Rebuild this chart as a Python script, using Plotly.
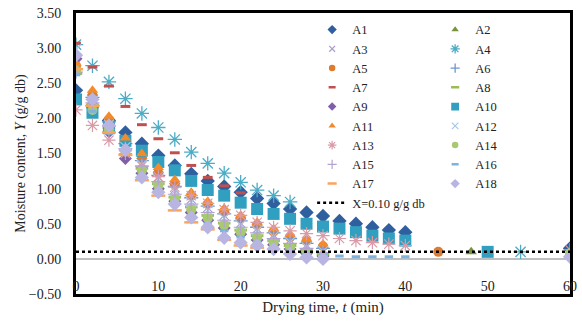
import plotly.graph_objects as go

# ---------------- data ----------------
T40 = [0, 2, 4, 6, 8, 10, 12, 14, 16, 18, 20, 22, 24, 26, 28, 30, 32, 34, 36, 38, 40]
T30 = [0, 2, 4, 6, 8, 10, 12, 14, 16, 18, 20, 22, 24, 26, 28, 30]

A1_T = T40 + [60]
A1_Y = [2.40, 2.18, 1.97, 1.80, 1.64, 1.47, 1.33, 1.21, 1.11, 1.03, 0.95, 0.86, 0.79, 0.71, 0.66, 0.61, 0.54, 0.50, 0.45, 0.41, 0.38, 0.15]
A2_T = T30 + [48]
A2_Y = [2.72, 2.36, 2.00, 1.68, 1.46, 1.26, 1.10, 0.93, 0.80, 0.69, 0.60, 0.50, 0.41, 0.33, 0.26, 0.19, 0.10]
A3_T = T30
A3_Y = [2.68, 2.27, 1.93, 1.61, 1.37, 1.16, 0.99, 0.85, 0.73, 0.62, 0.51, 0.43, 0.34, 0.27, 0.20, 0.13]
A4_T = [0, 2, 4, 6, 8, 10, 12, 14, 16, 18, 20, 22, 24, 26, 54]
A4_Y = [3.05, 2.75, 2.52, 2.28, 2.07, 1.87, 1.70, 1.52, 1.36, 1.22, 1.09, 0.98, 0.90, 0.81, 0.10]
A5_T = T30 + [44]
A5_Y = [2.75, 2.33, 1.98, 1.66, 1.43, 1.22, 1.06, 0.90, 0.78, 0.67, 0.58, 0.48, 0.39, 0.31, 0.25, 0.18, 0.10]
A6_T = T30
A6_Y = [2.70, 2.30, 1.95, 1.64, 1.40, 1.19, 1.03, 0.87, 0.75, 0.64, 0.54, 0.45, 0.37, 0.29, 0.22, 0.15]
A7_T = [0, 2, 4, 6, 8, 10, 12, 14, 16, 18, 20]
A7_Y = [3.07, 2.73, 2.46, 2.17, 1.91, 1.71, 1.51, 1.33, 1.16, 1.04, 0.94]
A8_T = T30
A8_Y = [2.64, 2.19, 1.87, 1.55, 1.29, 1.07, 0.88, 0.74, 0.62, 0.51, 0.41, 0.33, 0.26, 0.19, 0.12, 0.07]
A9_T = T30
A9_Y = [2.85, 2.15, 1.81, 1.43, 1.22, 1.00, 0.82, 0.66, 0.55, 0.44, 0.35, 0.27, 0.20, 0.14, 0.08, 0.04]
A10_T = T40 + [50]
A10_Y = [2.27, 2.08, 1.86, 1.68, 1.54, 1.38, 1.26, 1.11, 0.98, 0.90, 0.80, 0.71, 0.64, 0.57, 0.50, 0.46, 0.43, 0.38, 0.33, 0.29, 0.26, 0.10]
A11_T = T30
A11_Y = [2.78, 2.40, 2.03, 1.72, 1.50, 1.30, 1.13, 0.95, 0.82, 0.72, 0.62, 0.52, 0.43, 0.35, 0.28, 0.21]
A12_T = T30
A12_Y = [2.98, 2.25, 1.91, 1.59, 1.34, 1.13, 0.96, 0.81, 0.69, 0.58, 0.48, 0.40, 0.32, 0.24, 0.17, 0.11]
A13_T = T40 + [60]
A13_Y = [2.12, 1.90, 1.69, 1.50, 1.32, 1.17, 1.02, 0.90, 0.79, 0.70, 0.62, 0.52, 0.45, 0.40, 0.36, 0.33, 0.29, 0.26, 0.23, 0.21, 0.19, 0.13]
A14_T = T30 + [60]
A14_Y = [2.68, 2.12, 1.84, 1.53, 1.26, 1.04, 0.85, 0.70, 0.58, 0.48, 0.38, 0.30, 0.23, 0.16, 0.10, 0.05, 0.08]
A15_T = T30
A15_Y = [2.66, 2.22, 1.89, 1.57, 1.32, 1.10, 0.92, 0.78, 0.66, 0.55, 0.45, 0.37, 0.29, 0.22, 0.15, 0.09]
A16_T = T40
A16_Y = [2.62, 2.10, 1.79, 1.50, 1.20, 0.97, 0.77, 0.62, 0.50, 0.40, 0.31, 0.24, 0.17, 0.12, 0.07, 0.05, 0.04, 0.03, 0.03, 0.03, 0.03]
A17_T = [0, 2, 4, 6, 8, 10, 12, 14, 16, 18, 20, 22]
A17_Y = [2.70, 2.18, 1.80, 1.48, 1.12, 0.90, 0.69, 0.52, 0.42, 0.27, 0.19, 0.16]
A18_T = T30 + [60]
A18_Y = [2.90, 2.27, 1.90, 1.55, 1.16, 0.95, 0.78, 0.59, 0.45, 0.30, 0.23, 0.19, 0.14, 0.07, 0.02, 0.00, 0.03]

XLINE_T = [0, 60]
XLINE_Y = [0.10, 0.10]

X_TICKS = [0, 10, 20, 30, 40, 50, 60]
Y_TICKS = [-0.5, 0.0, 0.5, 1.0, 1.5, 2.0, 2.5, 3.0, 3.5]

SERIES = [
    ("A1", A1_T, A1_Y), ("A2", A2_T, A2_Y), ("A3", A3_T, A3_Y), ("A4", A4_T, A4_Y),
    ("A5", A5_T, A5_Y), ("A6", A6_T, A6_Y), ("A7", A7_T, A7_Y), ("A8", A8_T, A8_Y),
    ("A9", A9_T, A9_Y), ("A10", A10_T, A10_Y), ("A11", A11_T, A11_Y), ("A12", A12_T, A12_Y),
    ("A13", A13_T, A13_Y), ("A14", A14_T, A14_Y), ("A15", A15_T, A15_Y), ("A16", A16_T, A16_Y),
    ("A17", A17_T, A17_Y), ("A18", A18_T, A18_Y),
]

# ---------------- styles ----------------
STYLE = {
    "A1": dict(symbol="diamond", size=11, color="#2F5F9E", lw=0),
    "A2": dict(symbol="triangle-up", size=10, color="#77933C", lw=0),
    "A3": dict(symbol="x-thin-open", size=9, color="#A99BCB", lw=1.2),
    "A4": dict(symbol="asterisk-open", size=12, color="#4BACC6", lw=1.3),
    "A5": dict(symbol="circle", size=10, color="#E07B2E", lw=0),
    "A6": dict(symbol="cross-thin-open", size=10, color="#6F95CF", lw=1.3),
    "A7": dict(symbol="line-ew-open", size=7, color="#C0504D", lw=3),
    "A8": dict(symbol="line-ew-open", size=9, color="#9BBB59", lw=3),
    "A9": dict(symbol="diamond", size=10, color="#7F5FA8", lw=0),
    "A10": dict(symbol="square", size=12, color="#31A0C0", lw=0),
    "A11": dict(symbol="triangle-up", size=10, color="#F38B2A", lw=0),
    "A12": dict(symbol="x-thin-open", size=10, color="#A6C8E6", lw=1.2),
    "A13": dict(symbol="asterisk-open", size=11, color="#DB9AA8", lw=1.2),
    "A14": dict(symbol="circle", size=10, color="#A9C971", lw=0),
    "A15": dict(symbol="cross-thin-open", size=10, color="#B3A2D3", lw=1.2),
    "A16": dict(symbol="line-ew-open", size=6, color="#7FB3DF", lw=3),
    "A17": dict(symbol="line-ew-open", size=10, color="#F8A55E", lw=2.5),
    "A18": dict(symbol="diamond", size=11, color="#B8B5E3", lw=0),
}
LEGEND_SCALE = 0.65

FONT = "Liberation Serif"

fig = go.Figure()
# data marks (no legend entries)
for i, (name, t, y) in enumerate(SERIES):
    s = STYLE[name]
    fig.add_trace(go.Scatter(
        x=t, y=y, mode="markers", name=name, showlegend=False,
        legendgroup=name,
        marker=dict(symbol=s["symbol"], size=s["size"], color=s["color"],
                    line=dict(color=s["color"], width=s["lw"])),
    ))

# legend entries with smaller symbols (Excel-style legend)
for i, (name, t, y) in enumerate(SERIES):
    s = STYLE[name]
    fig.add_trace(go.Scatter(
        x=[None], y=[None], mode="markers", name=name, legendgroup=name,
        legend="legend" if i % 2 == 0 else "legend2",
        marker=dict(symbol=s["symbol"], size=max(5, s["size"] * LEGEND_SCALE), color=s["color"],
                    line=dict(color=s["color"], width=min(s["lw"], 2.5) if s["lw"] else 0)),
    ))

fig.add_trace(go.Scatter(
    x=XLINE_T, y=XLINE_Y, mode="lines", name="X=0.10 g/g db", legend="legend",
    line=dict(color="black", width=2.5, dash="3px,3px"),
))

LEG_FONT = dict(family=FONT, size=12.5, color="#222")
fig.update_layout(
    width=582, height=321,
    margin=dict(l=76, r=5, t=13, b=27),
    paper_bgcolor="white", plot_bgcolor="white",
    font=dict(family=FONT, size=13, color="#222"),
    showlegend=True,
    legend=dict(x=0.478, y=0.993, xanchor="left", yanchor="top", maxheight=300,
                bgcolor="rgba(0,0,0,0)", font=LEG_FONT, tracegroupgap=0),
    legend2=dict(x=0.727, y=0.993, xanchor="left", yanchor="top", maxheight=300,
                 bgcolor="rgba(0,0,0,0)", font=LEG_FONT, tracegroupgap=0),
    xaxis=dict(range=[0, 60], tickvals=X_TICKS, ticktext=[str(v) for v in X_TICKS],
               showgrid=False, zeroline=False,
               showline=True, linecolor="black", linewidth=3, mirror=True,
               ticks="", ticklabelposition="inside", ticklabeloverflow="allow",
               tickfont=dict(family=FONT, size=14, color="#222"),
               title=dict(text="Drying time, <i>t</i> (min)", standoff=9,
                          font=dict(family=FONT, size=15, color="#222"))),
    yaxis=dict(range=[-0.5, 3.5], tickvals=Y_TICKS, tickformat=".2f",
               showgrid=False, zeroline=True, zerolinecolor="#BFBFBF", zerolinewidth=1.5,
               showline=True, linecolor="black", linewidth=3, mirror=True,
               ticks="outside", ticklen=9, tickcolor="rgba(0,0,0,0)",
               tickfont=dict(family=FONT, size=14, color="#222"),
               title=dict(text="Moisture content, <i>Y</i> (g/g db)", standoff=0,
                          font=dict(family=FONT, size=14, color="#222"))),
)

fig.write_html("out.html", config={"displayModeBar": False},
               post_script="document.body.style.margin='0';")
